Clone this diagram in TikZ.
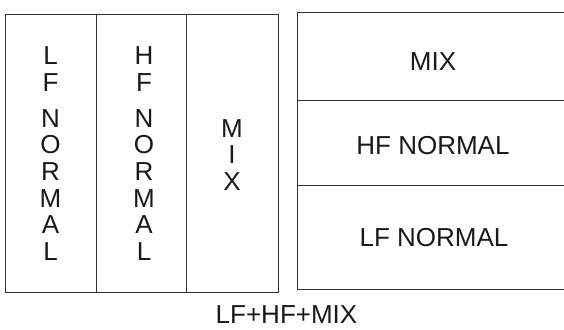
\documentclass[tikz,border=0pt]{standalone}
\usepackage{fontspec}
\setmainfont{Liberation Sans}
\begin{document}
\begin{tikzpicture}[x=1pt,y=-1pt,
  cell/.style={draw=black!80,line width=1pt,rectangle,inner sep=0pt,outer sep=0pt},
  lbl/.style={inner sep=0pt,outer sep=0pt,align=center,text=black!90,
    font=\fontsize{26}{26.6}\selectfont}]
\useasboundingbox (0,0) rectangle (564,329);
% left box: three vertical columns
\node[cell,minimum width=91pt,minimum height=277pt] (c1) at (50.5,153.5) {};
\node[cell,minimum width=90pt,minimum height=277pt] (c2) at (141,153.5) {};
\node[cell,minimum width=92pt,minimum height=277pt] (c3) at (232,153.5) {};
\node[lbl] (t1) at (c1.center) {L\\F\\[9.4pt]N\\O\\R\\M\\A\\L};
\node[lbl] (t2) at ([xshift=3pt]c2.center) {H\\F\\[9.4pt]N\\O\\R\\M\\A\\L};
\node[lbl] (t3) at ([yshift=-1.5pt]c3.center) {M\\I\\X};
% right box: three horizontal rows (cut off at the right edge)
\begin{scope}
\clip (0,0) rectangle (564,329);
\node[cell,minimum width=272pt,minimum height=87pt] (r1) at (433,56.5) {};
\node[cell,minimum width=272pt,minimum height=85pt] (r2) at (433,142.5) {};
\node[cell,minimum width=272pt,minimum height=104pt] (r3) at (433,237) {};
\end{scope}
\node[lbl] (u1) at (433,62) {MIX};
\node[lbl] (u2) at (433,146) {HF NORMAL};
\node[lbl] (u3) at (434,237.5) {LF NORMAL};
% caption
\node[lbl] (cap) at (286.5,315) {LF+HF+MIX};
\end{tikzpicture}
\end{document}
